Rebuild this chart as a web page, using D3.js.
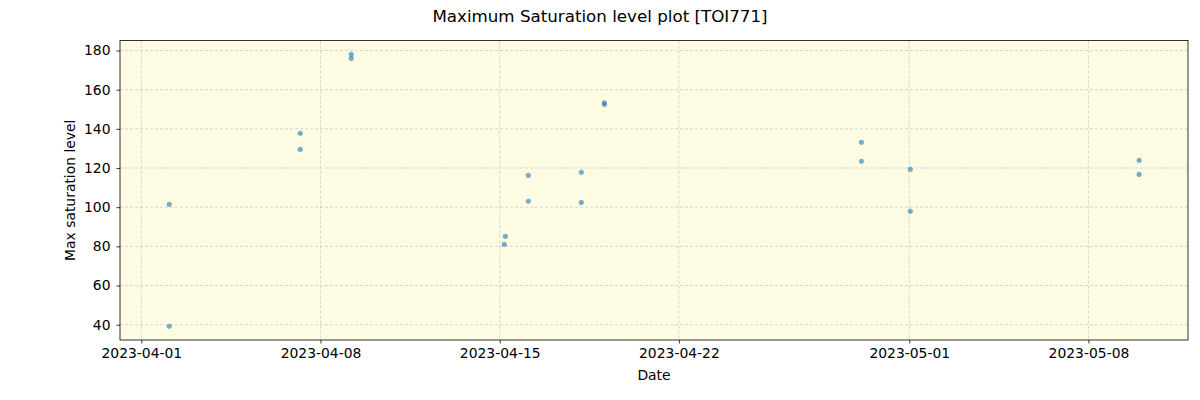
<!DOCTYPE html>
<html lang="en">
<head>
<meta charset="utf-8">
<title>Maximum Saturation level plot</title>
<script src="https://d3js.org/d3.v7.min.js"></script>
<style>
  body { margin: 0; background: #fff; }
  svg { font-family: "DejaVu Sans", sans-serif; }
</style>
</head>
<body>
<div id="chart"></div>
<script>
var dates = [
  "2023-04-02T02:10", "2023-04-02T02:10",
  "2023-04-07T05:00", "2023-04-07T05:00",
  "2023-04-09T04:50", "2023-04-09T04:50",
  "2023-04-15T05:20", "2023-04-15T04:20",
  "2023-04-16T02:50", "2023-04-16T02:50",
  "2023-04-18T04:30", "2023-04-18T04:30",
  "2023-04-19T02:10", "2023-04-19T02:10",
  "2023-04-29T03:10", "2023-04-29T03:10",
  "2023-05-01T01:00", "2023-05-01T01:00",
  "2023-05-09T23:30", "2023-05-09T23:30"
];
var values = [
  101.4, 39.2,
  137.7, 129.5,
  178.0, 175.9,
  85.1, 81.0,
  116.2, 103.0,
  117.8, 102.4,
  153.3, 152.4,
  133.1, 123.4,
  119.3, 97.9,
  123.9, 116.7
];
var xTicks = ["2023-04-01", "2023-04-08", "2023-04-15", "2023-04-22", "2023-05-01", "2023-05-08"];
var yTicks = [40, 60, 80, 100, 120, 140, 160, 180];

var parse = d3.utcParse("%Y-%m-%dT%H:%M");
var parseDay = d3.utcParse("%Y-%m-%d");
var fmt = d3.utcFormat("%Y-%m-%d");

var data = dates.map(function(d, i) { return {t: parse(d), v: values[i]}; });

var W = 1200, H = 400;
var margin = {top: 40.5, right: 12, bottom: 60, left: 120};
var width = W - margin.left - margin.right,
    height = H - margin.top - margin.bottom;

var svg = d3.select("#chart").append("svg")
    .attr("width", W).attr("height", H);

var g = svg.append("g")
    .attr("transform", "translate(" + margin.left + "," + margin.top + ")");

var x = d3.scaleUtc()
    .domain([parse("2023-03-31T04:00"), parse("2023-05-11T21:20")])
    .range([0, width]);

var y = d3.scaleLinear()
    .domain([32.2, 185.1])
    .range([height, 0]);

g.append("rect")
    .attr("width", width).attr("height", height)
    .attr("fill", "#fdfbe2");

// grid
g.selectAll(".gx").data(xTicks).enter().append("line")
    .attr("x1", function(d) { return x(parseDay(d)); })
    .attr("x2", function(d) { return x(parseDay(d)); })
    .attr("y1", 0).attr("y2", height)
    .attr("stroke", "#cccccc").attr("stroke-width", 0.8)
    .attr("stroke-dasharray", "3,2");
g.selectAll(".gy").data(yTicks).enter().append("line")
    .attr("y1", function(d) { return y(d); })
    .attr("y2", function(d) { return y(d); })
    .attr("x1", 0).attr("x2", width)
    .attr("stroke", "#cccccc").attr("stroke-width", 0.8)
    .attr("stroke-dasharray", "3,2");

// points
g.selectAll("circle").data(data).enter().append("circle")
    .attr("cx", function(d) { return x(d.t); })
    .attr("cy", function(d) { return y(d.v); })
    .attr("r", 2.4)
    .attr("fill", "#1f77b4")
    .attr("fill-opacity", 0.6)
    .attr("stroke", "#1f77b4")
    .attr("stroke-opacity", 0.25)
    .attr("stroke-width", 0.8);

// axes
var xAxis = d3.axisBottom(x)
    .tickValues(xTicks.map(parseDay))
    .tickFormat(fmt)
    .tickSizeOuter(0).tickSize(3.5).tickPadding(5);
var yAxis = d3.axisLeft(y)
    .tickValues(yTicks)
    .tickSizeOuter(0).tickSize(3.5).tickPadding(6);

var gx = g.append("g").attr("transform", "translate(0," + height + ")").call(xAxis);
var gy = g.append("g").call(yAxis);
[gx, gy].forEach(function(a) {
  a.select(".domain").remove();
  a.selectAll("text").attr("font-size", 13.9).attr("fill", "#000")
      .attr("font-family", "DejaVu Sans, sans-serif");
  a.selectAll("line").attr("stroke", "#000").attr("stroke-width", 0.8);
});

// frame
g.append("rect")
    .attr("width", width).attr("height", height)
    .attr("fill", "none").attr("stroke", "#000").attr("stroke-width", 0.8);

// labels
svg.append("text")
    .attr("x", W / 2).attr("y", 22)
    .attr("text-anchor", "middle")
    .attr("font-size", 16.7)
    .text("Maximum Saturation level plot [TOI771]");

svg.append("text")
    .attr("x", margin.left + width / 2).attr("y", 380)
    .attr("text-anchor", "middle")
    .attr("font-size", 13.9)
    .text("Date");

svg.append("text")
    .attr("transform", "translate(75," + (margin.top + height / 2) + ")rotate(-90)")
    .attr("text-anchor", "middle")
    .attr("font-size", 13.9)
    .text("Max saturation level");
</script>
</body>
</html>
